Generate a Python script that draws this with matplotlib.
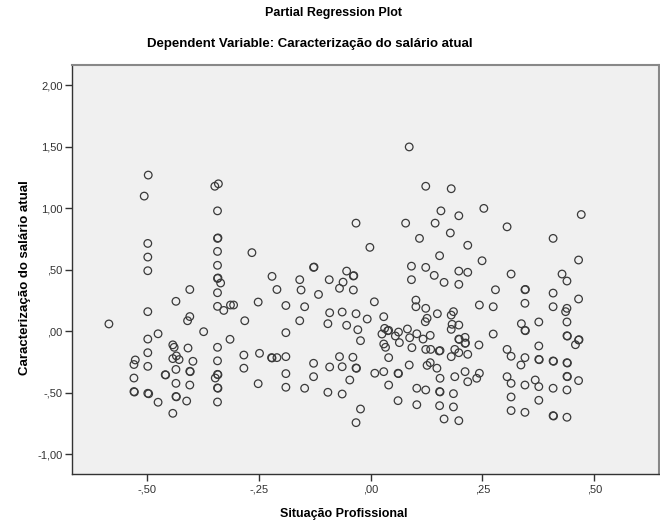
import matplotlib
matplotlib.use("Agg")
import matplotlib.pyplot as plt
from matplotlib.ticker import FuncFormatter

# partial residuals
sit_prof = [
    -0.498, -0.507, -0.499, -0.499, -0.499, -0.499, -0.586, -0.476, -0.499, -0.499,
    -0.499, -0.499, -0.497, -0.527, -0.530, -0.530, -0.530, -0.529, -0.476,
    -0.436, -0.405, -0.405, -0.410, -0.374, -0.443, -0.440, -0.409, -0.443, -0.435,
    -0.429, -0.398, -0.436, -0.405, -0.404, -0.460, -0.459, -0.436, -0.405, -0.436,
    -0.435, -0.412, -0.443,
    -0.349, -0.341, -0.343, -0.343, -0.342, -0.343, -0.343, -0.343, -0.342, -0.336,
    -0.343, -0.343, -0.329, -0.314, -0.307, -0.282, -0.315, -0.343, -0.343, -0.343,
    -0.342, -0.348, -0.343, -0.342, -0.343, -0.284, -0.284, -0.266,
    -0.128, -0.127, -0.221, -0.159, -0.210, -0.156, -0.093, -0.054, -0.039, -0.038,
    -0.062, -0.070, -0.039, -0.117, -0.252, -0.190, -0.148, -0.159, -0.190, -0.092,
    -0.064, -0.096, -0.054, -0.033, -0.029, -0.008, -0.023, -0.033, -0.002,
    -0.023, -0.033, -0.047, -0.033, -0.032, -0.040, -0.064, -0.070, -0.092, -0.096,
    -0.064, -0.128, -0.128, -0.148, -0.190, -0.190, -0.190, -0.221, -0.222, -0.210,
    -0.249, -0.252,
    0.086, 0.123, 0.180, 0.157, 0.078, 0.144, 0.178, 0.109, 0.154, 0.091,
    0.123, 0.197, 0.008, 0.029, 0.031, 0.025, 0.038, 0.040, 0.055, 0.062,
    0.064, 0.029, 0.033, 0.040, 0.082, 0.087, 0.101, 0.101, 0.091, 0.142,
    0.164, 0.123, 0.126, 0.122, 0.149, 0.103, 0.117, 0.133, 0.092, 0.123,
    0.134, 0.153, 0.155, 0.086, 0.126, 0.133, 0.148, 0.155, 0.154, 0.155,
    0.154, 0.164, 0.103, 0.123, 0.103, 0.061, 0.061, 0.062, 0.040, 0.029,
    0.009,
    0.253, 0.305, 0.217, 0.408, 0.471, 0.249, 0.465, 0.197, 0.217, 0.314,
    0.428, 0.439, 0.197, 0.279, 0.345, 0.346, 0.408, 0.465, 0.243, 0.274,
    0.345, 0.408, 0.439, 0.436, 0.185, 0.180, 0.197, 0.182, 0.180, 0.197,
    0.198, 0.211, 0.211, 0.212, 0.242, 0.274, 0.337, 0.345, 0.346, 0.376,
    0.439, 0.439, 0.440, 0.465, 0.466, 0.458, 0.376, 0.305, 0.314, 0.345,
    0.336, 0.376, 0.377, 0.408, 0.409, 0.439, 0.440, 0.188, 0.180, 0.197,
    0.217, 0.188, 0.211, 0.217, 0.237, 0.243, 0.305, 0.314, 0.345, 0.368,
    0.376, 0.408, 0.439, 0.440, 0.439, 0.465, 0.185, 0.185, 0.197, 0.314,
    0.376, 0.314, 0.345, 0.408, 0.409, 0.439,
]
carac_sal = [
    1.271, 1.100, 0.715, 0.604, 0.493, 0.160, 0.060, -0.020, -0.063, -0.174,
    -0.285, -0.504, -0.508, -0.233, -0.270, -0.380, -0.490, -0.494, -0.577,
    0.244, 0.340, 0.120, 0.086, -0.003, -0.110, -0.130, -0.136, -0.222, -0.200,
    -0.230, -0.244, -0.310, -0.325, -0.328, -0.353, -0.355, -0.423, -0.437, -0.530,
    -0.533, -0.567, -0.667,
    1.180, 1.200, 0.980, 0.756, 0.760, 0.650, 0.537, 0.430, 0.434, 0.393,
    0.314, 0.203, 0.170, 0.214, 0.214, 0.086, -0.065, -0.130, -0.240, -0.350,
    -0.353, -0.380, -0.460, -0.463, -0.575, -0.193, -0.300, 0.640,
    0.520, 0.523, 0.447, 0.420, 0.340, 0.336, 0.420, 0.490, 0.450, 0.453,
    0.400, 0.350, 0.336, 0.300, 0.238, 0.210, 0.200, 0.086, -0.011, 0.151,
    0.157, 0.062, 0.049, 0.143, 0.013, 0.100, -0.076, 0.880, 0.683,
    -0.632, -0.743, -0.396, -0.298, -0.301, -0.211, -0.288, -0.206, -0.290, -0.496,
    -0.510, -0.260, -0.369, -0.463, -0.206, -0.344, -0.455, -0.217, -0.214, -0.214,
    -0.179, -0.426,
    1.500, 1.180, 1.160, 0.980, 0.880, 0.880, 0.800, 0.756, 0.615, 0.530,
    0.520, 0.940, 0.240, 0.119, 0.024, -0.022, 0.005, 0.008, -0.038, -0.006,
    -0.092, -0.103, -0.130, -0.214, 0.019, -0.052, 0.254, 0.200, 0.420, 0.455,
    0.398, 0.187, 0.106, 0.078, 0.143, -0.020, -0.063, -0.033, -0.133, -0.147,
    -0.147, -0.160, -0.157, -0.274, -0.277, -0.255, -0.300, -0.382, -0.490, -0.493,
    -0.605, -0.713, -0.463, -0.477, -0.597, -0.564, -0.341, -0.344, -0.437, -0.328,
    -0.341,
    1.000, 0.850, 0.700, 0.756, 0.950, 0.574, 0.580, 0.490, 0.480, 0.466,
    0.466, 0.409, 0.382, 0.338, 0.338, 0.341, 0.311, 0.263, 0.214, 0.200,
    0.228, 0.200, 0.187, 0.160, 0.160, 0.132, 0.051, 0.057, 0.016, -0.063,
    -0.066, -0.049, -0.098, -0.095, -0.111, -0.022, 0.062, 0.008, 0.005, 0.076,
    0.076, -0.036, -0.039, -0.071, -0.068, -0.109, -0.119, -0.147, -0.203, -0.214,
    -0.274, -0.228, -0.231, -0.241, -0.244, -0.255, -0.258, -0.147, -0.206, -0.174,
    -0.187, -0.369, -0.328, -0.410, -0.382, -0.341, -0.369, -0.423, -0.437, -0.396,
    -0.450, -0.463, -0.366, -0.369, -0.477, -0.401, -0.507, -0.615, -0.727, -0.534,
    -0.561, -0.645, -0.659, -0.686, -0.689, -0.699,
]

x_ticks = [-0.5, -0.25, 0.0, 0.25, 0.5]
y_ticks = [-1.0, -0.5, 0.0, 0.5, 1.0, 1.5, 2.0]


def spss_fmt(v, pos):
    # SPSS drops the leading zero and uses a comma
    s = "%.2f" % v
    s = s.replace("0.", ".", 1) if abs(v) < 1 else s
    return s.replace(".", ",")


plt.rcParams["font.family"] = ["Liberation Sans", "DejaVu Sans"]

fig = plt.figure(figsize=(6.6, 5.31), dpi=100)
ax = fig.add_axes([0.1095, 0.1068, 0.889, 0.770])
ax.set_facecolor("#f0f0f0")

ax.scatter(sit_prof, carac_sal, s=30, facecolors="none", edgecolors="#3a3a3a",
           linewidths=0.9)

ax.set_xlim(-0.668, 0.645)
ax.set_ylim(-1.163, 2.163)
ax.set_xticks(x_ticks)
ax.set_yticks(y_ticks)
ax.xaxis.set_major_formatter(FuncFormatter(spss_fmt))
ax.yaxis.set_major_formatter(FuncFormatter(spss_fmt))
ax.tick_params(direction="out", length=5, width=1, color="#333333",
               labelsize=8, labelcolor="#333333", pad=2)

for side in ["left", "bottom"]:
    ax.spines[side].set_color("#333333")
    ax.spines[side].set_linewidth(1.0)
for side in ["top", "right"]:
    ax.spines[side].set_color("#888888")
    ax.spines[side].set_linewidth(1.5)

ax.set_xlabel("Situação Profissional", fontsize=9, fontweight="bold")
ax.xaxis.set_label_coords(0.462, -0.082)
ax.set_ylabel("Caracterização do salário atual", fontsize=9.5, fontweight="bold")
ax.yaxis.set_label_coords(-0.07, 0.48)

fig.text(0.505, 0.975, "Partial Regression Plot", ha="center", va="center",
         fontsize=9, fontweight="bold")
fig.text(0.47, 0.918, "Dependent Variable: Caracterização do salário atual",
         ha="center", va="center", fontsize=9.5, fontweight="bold")

plt.savefig("out.png", dpi=100)
